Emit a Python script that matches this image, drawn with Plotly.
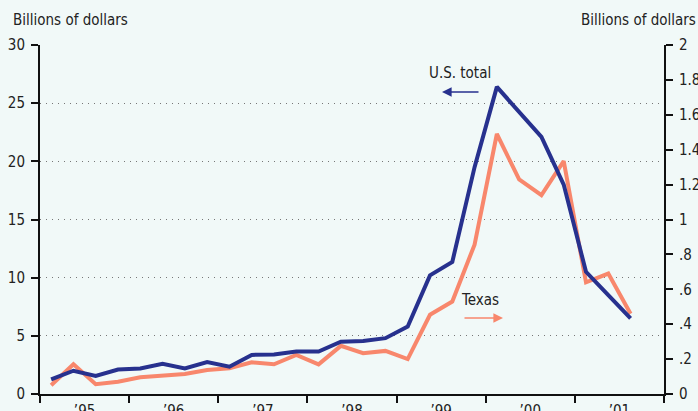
import plotly.graph_objects as go

years = [1995, 1996, 1997, 1998, 1999, 2000, 2001]
year_labels = ["’95", "’96", "’97", "’98", "’99", "’00", "’01"]
quarters_per_year = 4
n_points = 27  # 1995Q1 .. 2001Q3

us_total = [1.26, 2.0, 1.55, 2.1, 2.2, 2.6, 2.2, 2.75, 2.35, 3.36, 3.4, 3.65, 3.65,
            4.5, 4.55, 4.8, 5.8, 10.2, 11.35, 19.5, 26.4, 24.2, 22.1, 18.0, 10.5, 8.5, 6.5]
texas = [0.05, 0.17, 0.056, 0.07, 0.096, 0.107, 0.115, 0.138, 0.148, 0.182, 0.17, 0.224, 0.17,
         0.276, 0.234, 0.247, 0.2, 0.454, 0.53, 0.856, 1.49, 1.23, 1.14, 1.335, 0.64, 0.69, 0.46]

left_ticks = [0, 5, 10, 15, 20, 25, 30]
right_ticks = [0, 0.2, 0.4, 0.6, 0.8, 1.0, 1.2, 1.4, 1.6, 1.8, 2.0]
right_labels = ["0", ".2", ".4", ".6", ".8", "1", "1.2", "1.4", "1.6", "1.8", "2"]

x = [years[0] + (i + 0.5) / quarters_per_year for i in range(n_points)]

FONT = "DejaVu Sans Condensed, Liberation Sans Narrow, Arial Narrow, sans-serif"
BG = "#f1f9f8"
BLUE = "#27318e"
ORANGE = "#f8876c"
TXT = "#222222"
FS = 15

fig = go.Figure()
fig.add_trace(go.Scatter(x=x, y=texas, mode="lines", yaxis="y",
                         line=dict(color=ORANGE, width=4), name="Texas"))
fig.add_trace(go.Scatter(x=x, y=us_total, mode="lines", yaxis="y2",
                         line=dict(color=BLUE, width=4), name="U.S. total"))

fig.update_layout(
    width=698, height=411,
    margin=dict(l=40, r=34, t=45, b=17),
    paper_bgcolor=BG, plot_bgcolor=BG,
    showlegend=False,
    font=dict(family=FONT, size=FS, color=TXT),
    xaxis=dict(
        range=[1995, 2002], tickvals=[y + 0.5 for y in years], ticktext=year_labels,
        ticks="outside", ticklen=2, tickcolor=BG, showgrid=False, zeroline=False,
        showline=True, linecolor="#111", linewidth=2, automargin=False,
        minor=dict(ticks="outside", tick0=1995, dtick=1, ticklen=7, tickwidth=2,
                   tickcolor="#111", showgrid=False),
        fixedrange=True,
    ),
    yaxis=dict(
        side="right", range=[0, 2], tickvals=right_ticks, ticktext=right_labels,
        ticks="outside", ticklen=7, tickwidth=2, tickcolor="#111", automargin=False,
        showline=True, linecolor="#111", linewidth=2, showgrid=False, zeroline=False,
        ticklabelstandoff=3,
    ),
    yaxis2=dict(
        overlaying="y", side="left", range=[0, 30], tickvals=left_ticks,
        ticks="outside", ticklen=7, tickwidth=2, tickcolor="#111", automargin=False,
        showline=True, linecolor="#111", linewidth=2,
        showgrid=True, gridcolor="#777", gridwidth=1.3, griddash="1.3px,4.7px",
        zeroline=False, ticklabelstandoff=3,
    ),
    annotations=[
        dict(text="Billions of dollars", xref="paper", yref="paper", x=-29 / 624, y=1 + 25 / 349,
             xanchor="left", yanchor="middle", showarrow=False, font=dict(size=FS, color=TXT)),
        dict(text="Billions of dollars", xref="paper", yref="paper", x=1 + 34 / 624, y=1 + 25 / 349,
             xanchor="right", yanchor="middle", showarrow=False, font=dict(size=FS, color=TXT)),
        dict(text="U.S. total", xref="paper", yref="paper", x=(460 - 40) / 624, y=(394 - 73) / 349,
             xanchor="center", yanchor="middle", showarrow=False, font=dict(size=FS, color=TXT)),
        dict(text="", xref="paper", yref="paper", x=(442 - 40) / 624, y=(394 - 92) / 349,
             ax=38, ay=0, showarrow=True, arrowhead=2, arrowsize=1.2, arrowwidth=1.6,
             arrowcolor=BLUE),
        dict(text="Texas", xref="paper", yref="paper", x=(480 - 40) / 624, y=(394 - 300) / 349,
             xanchor="center", yanchor="middle", showarrow=False, font=dict(size=FS, color=TXT)),
        dict(text="", xref="paper", yref="paper", x=(503 - 40) / 624, y=(394 - 318) / 349,
             ax=-40, ay=0, showarrow=True, arrowhead=2, arrowsize=1.2, arrowwidth=1.6,
             arrowcolor=ORANGE),
    ],
)

fig.write_html(
    "out.html",
    config={"displayModeBar": False},
    post_script="document.body.style.margin='0';document.body.style.overflow='hidden';",
)
